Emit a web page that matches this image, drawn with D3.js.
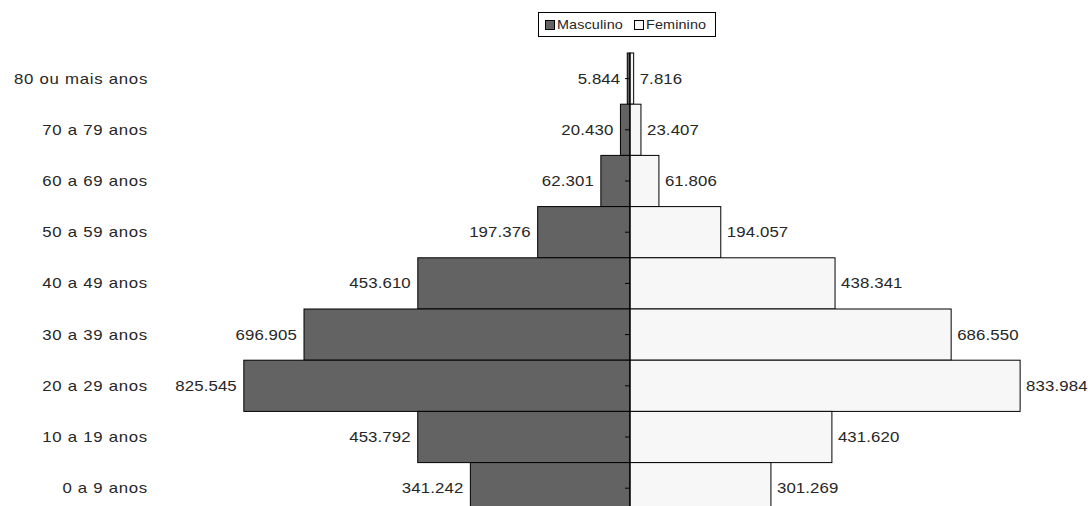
<!DOCTYPE html>
<html>
<head>
<meta charset="utf-8">
<script src="https://cdn.jsdelivr.net/npm/d3@7"></script>
<style>
  html, body { margin: 0; padding: 0; background: #fff; }
  svg { display: block; }
  text { font-family: "Liberation Sans", Arial, sans-serif; fill: #262626; }
</style>
</head>
<body>
<svg id="chart" width="1088" height="506"></svg>
<script>
// Age groups, from oldest (top) to youngest (bottom)
const categories = [
  "80 ou mais anos", "70 a 79 anos", "60 a 69 anos", "50 a 59 anos",
  "40 a 49 anos", "30 a 39 anos", "20 a 29 anos", "10 a 19 anos", "0 a 9 anos"
];
const masculino = [5844, 20430, 62301, 197376, 453610, 696905, 825545, 453792, 341242];
const feminino  = [7816, 23407, 61806, 194057, 438341, 686550, 833984, 431620, 301269];
const seriesNames = ["Masculino", "Feminino"];

const svg = d3.select("#chart");
const fmt = v => d3.format(",")(v).replace(/,/g, ".");
const sx = 1.2; // wide text rendering

const cx = 630;          // centre axis
const halfWidth = 421;   // pixels for the domain maximum on each side
const xMax = 900000;

const xRight = d3.scaleLinear().domain([0, xMax]).range([cx, cx + halfWidth]);
const xLeft  = d3.scaleLinear().domain([0, xMax]).range([cx, cx - halfWidth]);
const y = d3.scaleBand().domain(categories).range([53, 53 + 9 * 51.2]).padding(0);

const colors = { Masculino: "#636363", Feminino: "#f7f7f7" };

const rows = categories.map((c, i) => ({ c, m: masculino[i], f: feminino[i] }));

// Male bars (left)
svg.append("g").selectAll("rect").data(rows).join("rect")
  .attr("x", d => xLeft(d.m))
  .attr("y", d => y(d.c))
  .attr("width", d => cx - xLeft(d.m))
  .attr("height", y.bandwidth())
  .attr("fill", colors.Masculino)
  .attr("stroke", "#000")
  .attr("stroke-width", 1);

// Female bars (right)
svg.append("g").selectAll("rect").data(rows).join("rect")
  .attr("x", cx)
  .attr("y", d => y(d.c))
  .attr("width", d => xRight(d.f) - cx)
  .attr("height", y.bandwidth())
  .attr("fill", colors.Feminino)
  .attr("stroke", "#000")
  .attr("stroke-width", 1);

// Centre category axis with small left ticks
const axis = d3.axisLeft(y).tickSize(5).tickFormat("");
const gAxis = svg.append("g").attr("transform", `translate(${cx},0)`).call(axis);
gAxis.select(".domain").attr("stroke", "#000").attr("d", `M0,${y.range()[0]}V${y.range()[1]}`);
gAxis.selectAll(".tick line").attr("stroke", "#000");

const midY = c => y(c) + y.bandwidth() / 2;

// Category labels on the far left
svg.append("g").selectAll("text").data(categories).join("text")
  .attr("transform", d => `translate(148,${midY(d)}) scale(${sx},1)`)
  .attr("dy", "0.36em")
  .attr("text-anchor", "end")
  .attr("font-size", 14)
  .attr("letter-spacing", 0.6)
  .text(d => d);

// Value labels
svg.append("g").selectAll("text").data(rows).join("text")
  .attr("transform", d => `translate(${xLeft(d.m) - 7},${midY(d.c)}) scale(${sx},1)`)
  .attr("dy", "0.36em")
  .attr("text-anchor", "end")
  .attr("font-size", 14)
  .attr("letter-spacing", 0.1)
  .text(d => fmt(d.m));

svg.append("g").selectAll("text").data(rows).join("text")
  .attr("transform", d => `translate(${xRight(d.f) + 6},${midY(d.c)}) scale(${sx},1)`)
  .attr("dy", "0.36em")
  .attr("text-anchor", "start")
  .attr("font-size", 14)
  .attr("letter-spacing", 0.1)
  .text(d => fmt(d.f));

// Legend
const legend = svg.append("g");
legend.append("rect")
  .attr("x", 538.5).attr("y", 12.5).attr("width", 177).attr("height", 24)
  .attr("fill", "#fff").attr("stroke", "#000").attr("stroke-width", 1);
const legendX = [545, 634];
seriesNames.forEach((name, i) => {
  legend.append("rect")
    .attr("x", legendX[i] + 0.5).attr("y", 20.5).attr("width", 9).attr("height", 9)
    .attr("fill", colors[name]).attr("stroke", "#000");
  legend.append("text")
    .attr("transform", `translate(${legendX[i] + 12},25) scale(${sx},1)`)
    .attr("dy", "0.36em")
    .attr("font-size", 12)
    .attr("letter-spacing", 0.1)
    .text(name);
});
</script>
</body>
</html>
